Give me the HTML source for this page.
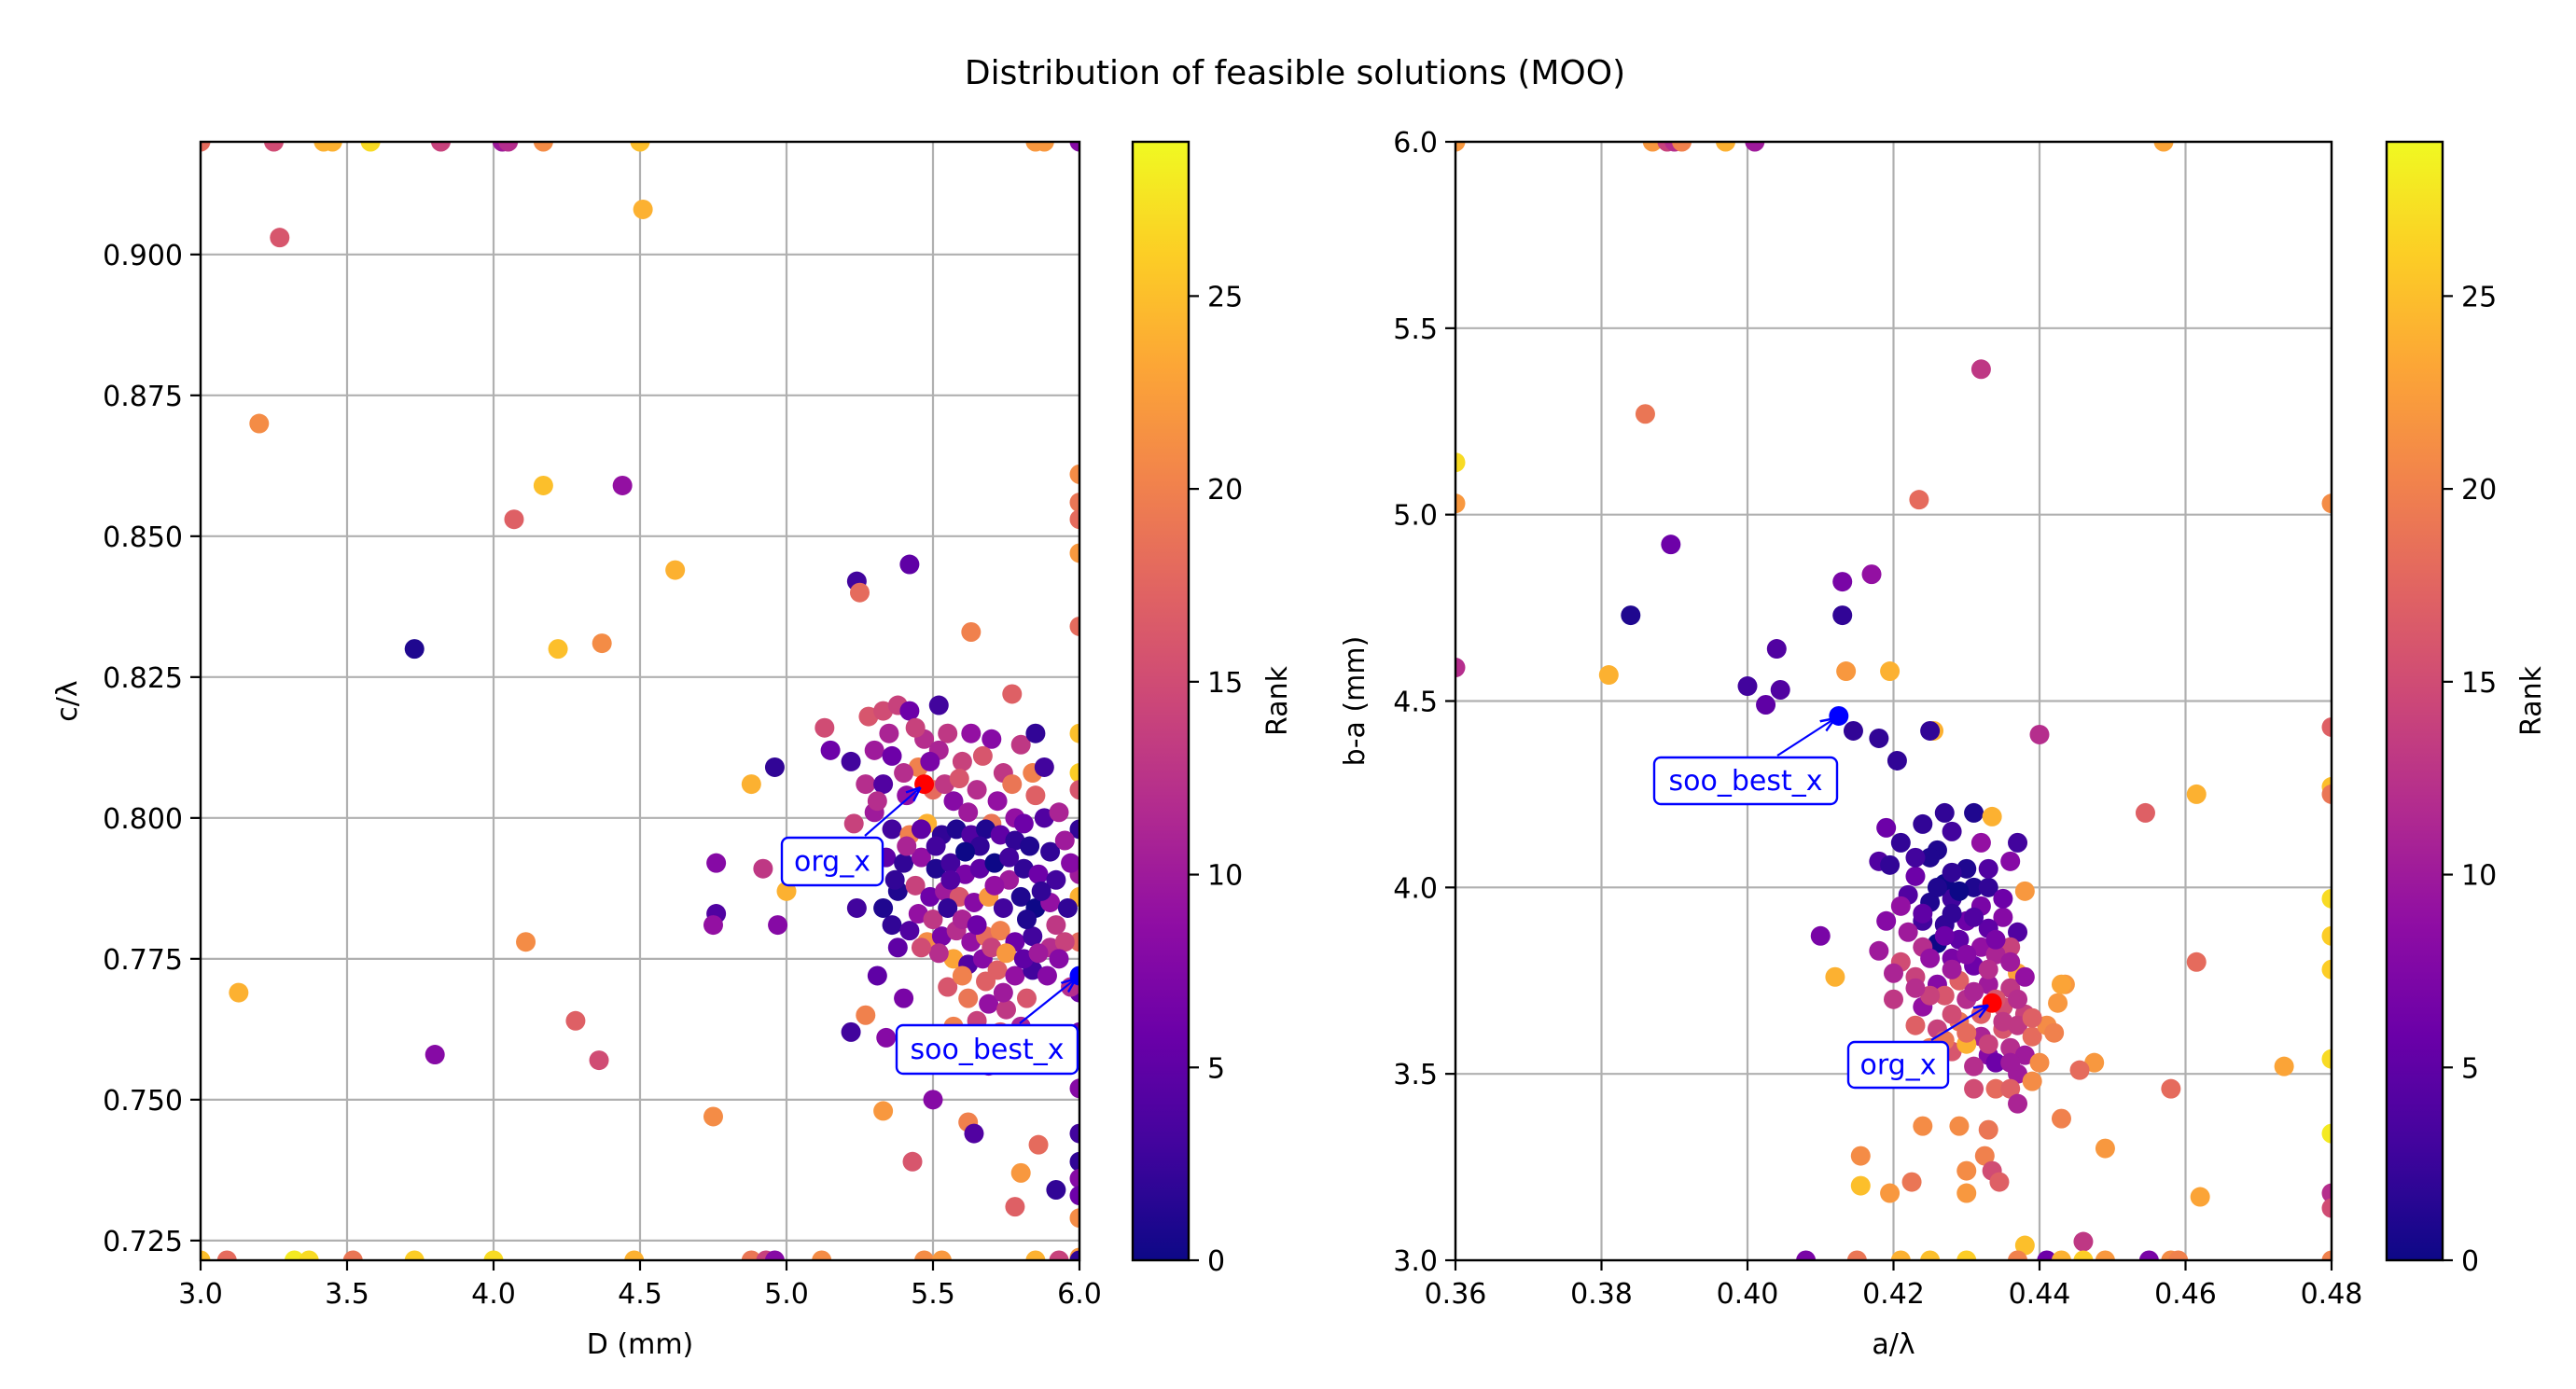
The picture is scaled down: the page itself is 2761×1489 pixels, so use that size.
<!DOCTYPE html>
<html><head><meta charset="utf-8"><style>
html,body{margin:0;padding:0;background:#fff;}
svg{display:block;font-family:"DejaVu Sans","Liberation Sans",sans-serif;}
</style></head><body>
<svg id="fig" width="2761" height="1489" viewBox="0 0 2761 1489" xmlns="http://www.w3.org/2000/svg">
<defs>
<linearGradient id="plasma" x1="0" y1="1" x2="0" y2="0">
<stop offset="0" stop-color="#0d0887"/><stop offset="0.1" stop-color="#41049d"/><stop offset="0.2" stop-color="#6a00a8"/><stop offset="0.3" stop-color="#8f0da4"/><stop offset="0.4" stop-color="#b12a90"/><stop offset="0.5" stop-color="#cc4778"/><stop offset="0.6" stop-color="#e16462"/><stop offset="0.7" stop-color="#f2844b"/><stop offset="0.8" stop-color="#fca636"/><stop offset="0.9" stop-color="#fcce25"/><stop offset="1" stop-color="#f0f921"/>
</linearGradient>
<clipPath id="clipL"><rect x="215" y="152" width="942" height="1199"/></clipPath>
<clipPath id="clipR"><rect x="1560" y="152" width="939" height="1199"/></clipPath>
<marker id="arr" viewBox="0 0 10 10" refX="9" refY="5" markerWidth="7" markerHeight="7" orient="auto"><path d="M0,1 L10,5 L0,9" fill="none" stroke="#0000ff" stroke-width="1.6"/></marker>
</defs>
<text x="1388" y="90" font-size="36" text-anchor="middle">Distribution of feasible solutions (MOO)</text>
</svg>
<script>
// ---------- left plot data (D, c/λ, rank) ----------
const leftX = [
3.0,3.25,3.42,3.45,3.58,3.82,4.03,4.05,4.17,4.5,5.85,5.88,6.0,
3.27,4.51,3.2,4.17,4.44,4.07,4.62,3.73,4.22,4.37,5.24,5.25,5.42,5.63,5.77,
6,6,6,6,6,6,6,6,6,6,6,6,6,6,6,6,6,6,6,6,6,
4.11,3.13,4.28,3.8,4.36,4.75,4.76,4.92,4.76,4.75,4.97,5.0,4.96,4.88,5.13,5.15,5.22,5.24,5.31,5.4,5.22,5.34,5.27,5.33,5.5,5.62,5.64,5.43,5.86,5.8,5.92,5.78,
3.0,3.09,3.32,3.37,3.52,3.73,4.0,4.48,4.88,4.93,4.96,5.12,5.47,5.53,5.85,5.93,6.0,
5.28,5.33,5.38,5.42,5.52,5.47,5.55,5.63,5.70,5.80,5.85,5.30,5.36,5.45,5.52,5.60,5.67,5.74,5.84,5.88,
5.27,5.33,5.40,5.50,5.57,5.62,5.70,5.78,5.85,5.23,5.30,5.36,5.42,5.48,5.53,5.58,5.63,5.68,5.73,5.78,
5.83,5.90,5.95,5.34,5.40,5.46,5.51,5.56,5.61,5.66,5.71,5.76,5.81,5.86,5.92,5.38,5.44,5.49,5.54,5.59,
5.64,5.69,5.74,5.80,5.85,5.90,5.96,5.36,5.42,5.48,5.53,5.58,5.63,5.68,5.73,5.78,5.84,5.90,5.95,5.38,
5.57,5.62,5.67,5.72,5.78,5.84,5.89,5.55,5.62,5.69,5.75,5.82,5.57,5.65,5.73,5.80,5.60,5.87,5.69,
5.31,5.35,5.41,5.44,5.49,5.54,5.59,5.65,5.72,5.77,5.81,5.88,5.93,5.97,5.92,5.87,5.82,5.76,5.71,5.66,
5.61,5.56,5.51,5.46,5.41,5.37,5.33,5.45,5.50,5.55,5.60,5.65,5.70,5.75,5.81,5.86,5.93,5.97,5.74,5.68,
5.60,5.52,5.46
];
const leftY = [
0.92,0.92,0.92,0.92,0.92,0.92,0.92,0.92,0.92,0.92,0.92,0.92,0.92,
0.903,0.908,0.870,0.859,0.859,0.853,0.844,0.830,0.830,0.831,0.842,0.840,0.845,0.833,0.822,
0.861,0.856,0.853,0.847,0.834,0.815,0.808,0.805,0.798,0.790,0.786,0.778,0.769,0.762,0.752,0.744,0.739,0.736,0.733,0.729,0.722,
0.778,0.769,0.764,0.758,0.757,0.747,0.792,0.791,0.783,0.781,0.781,0.787,0.809,0.806,0.816,0.812,0.810,0.784,0.772,0.768,0.762,0.761,0.765,0.748,0.750,0.746,0.744,0.739,0.742,0.737,0.734,0.731,
0.7215,0.7215,0.7215,0.7215,0.7215,0.7215,0.7215,0.7215,0.7215,0.7215,0.7215,0.7215,0.7215,0.7215,0.7215,0.7215,0.7215,
0.818,0.819,0.820,0.819,0.820,0.814,0.815,0.815,0.814,0.813,0.815,0.812,0.811,0.809,0.812,0.810,0.811,0.808,0.808,0.809,
0.806,0.806,0.808,0.805,0.803,0.801,0.799,0.800,0.804,0.799,0.801,0.798,0.797,0.799,0.797,0.798,0.797,0.798,0.797,0.796,
0.795,0.794,0.796,0.793,0.792,0.793,0.791,0.792,0.790,0.791,0.792,0.789,0.791,0.790,0.789,0.787,0.788,0.786,0.787,0.786,
0.785,0.786,0.784,0.786,0.784,0.785,0.784,0.781,0.780,0.778,0.779,0.780,0.778,0.779,0.780,0.778,0.779,0.777,0.778,0.777,
0.775,0.774,0.775,0.773,0.772,0.773,0.772,0.770,0.768,0.767,0.766,0.768,0.763,0.764,0.762,0.763,0.758,0.758,0.756,
0.803,0.815,0.804,0.816,0.810,0.806,0.807,0.805,0.803,0.806,0.799,0.800,0.801,0.792,0.781,0.787,0.782,0.793,0.788,0.795,
0.794,0.789,0.795,0.798,0.795,0.789,0.784,0.783,0.782,0.784,0.782,0.781,0.777,0.776,0.775,0.776,0.775,0.770,0.769,0.771,
0.772,0.776,0.777
];
const leftRank = [
18,15,24,24,27,14,10,12,21,25,22,22,8,
16,24,21,25,9,17,24,1,25,21,3,18,5,20,17,
21,19,18,22,18,25,26,16,2,10,24,18,6,6,8,3,2,8,6,21,22,
21,24,17,8,15,21,8,13,4,9,8,24,2,24,15,6,3,3,5,7,3,8,20,22,8,20,4,16,18,22,2,17,
25,18,28,27,19,26,27,24,19,14,8,21,21,22,24,14,2,
16,15,14,6,3,12,13,9,8,13,2,10,6,20,11,14,16,13,20,3,
12,4,12,18,8,10,19,9,17,14,10,3,20,24,2,1,4,1,5,2,
1,2,10,5,2,9,1,3,7,5,0,10,2,6,3,1,14,6,10,16,
8,22,3,1,0,9,2,2,4,21,7,12,9,18,20,6,3,12,14,5,
23,4,8,17,9,3,8,16,19,9,13,16,20,14,17,11,14,12,8,
12,11,9,14,7,13,16,12,9,19,6,4,11,8,13,2,1,3,9,2,
0,4,3,5,11,2,1,9,13,2,11,6,14,22,5,10,8,12,10,17,
20,12,15
];
const leftSpecial = {orgX:5.47, orgY:0.806, sooX:6.0, sooY:0.772};

// ---------- right plot data (a/λ, b-a, rank) ----------
const rightX = [
0.36,0.387,0.389,0.39,0.391,0.397,0.401,0.457,
0.432,0.386,0.36,0.36,0.4235,0.48,0.3895,0.417,0.413,0.384,0.413,0.404,0.36,0.381,0.4135,0.4195,0.40,0.4045,0.4025,0.4145,0.418,0.4255,0.425,0.440,0.48,0.4205,0.48,0.48,0.4615,0.4545,0.48,0.48,0.48,0.4615,0.410,0.412,0.4435,0.4475,0.4735,0.4455,0.458,0.48,0.48,0.443,0.449,0.462,0.48,0.48,0.424,0.433,0.429,0.4155,0.4155,0.4195,0.4225,0.430,0.430,0.4325,0.4335,0.4345,0.446,0.438,
0.408,0.415,0.421,0.425,0.43,0.437,0.441,0.443,0.446,0.449,0.455,0.458,0.459,0.48,
0.427,0.431,0.4335,0.419,0.424,0.428,0.432,0.437,0.418,0.421,0.426,0.430,0.436,0.4195,0.423,0.427,0.431,0.433,0.438,0.422,
0.425,0.428,0.432,0.435,0.421,0.424,0.427,0.430,0.433,0.437,0.419,0.422,0.426,0.429,0.432,0.436,0.418,0.421,0.424,0.428,
0.431,0.434,0.437,0.420,0.423,0.426,0.429,0.433,0.436,0.438,0.420,0.424,0.427,0.430,0.435,0.438,0.423,0.426,0.429,0.432,
0.435,0.437,0.439,0.421,0.425,0.428,0.430,0.433,0.436,0.438,0.431,0.434,0.437,0.431,0.434,0.436,0.437,0.439,0.441,0.442,
0.4425,0.443,0.440,
0.425,0.428,0.423,0.433,0.426,0.429,0.435,0.424,0.428,0.431,0.434,0.427,0.425,0.430,0.433,0.436,0.428,0.425,0.431,0.434,
0.437,0.428,0.432,0.435,0.430,0.433,0.427,0.436,0.439,0.423
];
const rightY = [
6,6,6,6,6,6,6,6,
5.39,5.27,5.14,5.03,5.04,5.03,4.92,4.84,4.82,4.73,4.73,4.64,4.59,4.57,4.58,4.58,4.54,4.53,4.49,4.42,4.40,4.42,4.42,4.41,4.43,4.34,4.27,4.25,4.25,4.20,3.97,3.87,3.78,3.80,3.87,3.76,3.74,3.53,3.52,3.51,3.46,3.54,3.34,3.38,3.30,3.17,3.18,3.14,3.36,3.35,3.36,3.28,3.20,3.18,3.21,3.24,3.18,3.28,3.24,3.21,3.05,3.04,
3,3,3,3,3,3,3,3,3,3,3,3,3,3,
4.20,4.20,4.19,4.16,4.17,4.15,4.12,4.12,4.07,4.12,4.10,4.05,4.07,4.06,4.03,4.01,4.00,4.00,3.99,3.98,
3.96,3.97,3.95,3.92,3.95,3.91,3.90,3.91,3.89,3.88,3.91,3.88,3.85,3.86,3.84,3.84,3.83,3.80,3.84,3.81,
3.79,3.82,3.77,3.77,3.76,3.74,3.75,3.74,3.73,3.76,3.70,3.68,3.71,3.70,3.68,3.66,3.63,3.62,3.64,3.60,
3.62,3.63,3.60,3.56,3.57,3.56,3.58,3.55,3.57,3.55,3.52,3.53,3.50,3.46,3.46,3.46,3.42,3.48,3.63,3.61,
3.69,3.74,3.53,
4.08,4.04,4.08,4.05,4.00,3.99,3.97,3.93,3.93,3.92,3.86,3.87,3.81,3.82,3.78,3.80,3.78,3.71,3.72,3.70,
3.70,3.66,3.66,3.64,3.61,3.58,3.59,3.53,3.65,3.73
];
const rightRank = [
22,22,14,12,20,24,10,23,
13,19,27,22,18,21,6,9,7,1,2,4,12,24,22,24,3,4,5,2,2,24,2,12,17,2,25,19,24,17,27,26,26,18,7,24,22,22,23,18,18,27,28,20,22,23,12,15,21,19,21,21,25,22,19,21,22,20,15,17,13,25,
7,19,24,25,26,20,6,24,26,22,7,21,20,20,
2,1,24,6,2,3,9,3,4,2,1,1,8,2,6,0,1,2,22,4,
1,3,7,8,9,3,2,6,5,4,8,10,0,5,9,14,10,15,12,7,
6,11,23,11,14,8,17,10,13,9,13,9,16,12,15,14,17,14,19,11,
16,13,18,15,20,16,24,8,12,10,12,6,10,15,18,17,11,21,21,20,
22,23,21,
1,2,3,4,1,0,6,5,2,4,7,6,9,8,12,10,10,14,11,16,
12,15,17,13,18,14,19,10,17,12
];
const rightSpecial = {orgX:0.4335, orgY:3.69, sooX:0.4125, sooY:4.46};

const leftXTicks = [3.0,3.5,4.0,4.5,5.0,5.5,6.0];
const leftYTicks = [0.725,0.750,0.775,0.800,0.825,0.850,0.875,0.900];
const rightXTicks = [0.36,0.38,0.40,0.42,0.44,0.46,0.48];
const rightYTicks = [3.0,3.5,4.0,4.5,5.0,5.5,6.0];
const cbarTicks = [0,5,10,15,20,25];
const rankMax = 29;

const NS = "http://www.w3.org/2000/svg";
const svg = document.getElementById('fig');
function mk(tag, attrs, parent){
  const e = document.createElementNS(NS, tag);
  for (const k in attrs) e.setAttribute(k, attrs[k]);
  (parent||svg).appendChild(e);
  return e;
}
const stops = ["#0d0887","#41049d","#6a00a8","#8f0da4","#b12a90","#cc4778","#e16462","#f2844b","#fca636","#fcce25","#f0f921"];
function hex(c){return [parseInt(c.slice(1,3),16),parseInt(c.slice(3,5),16),parseInt(c.slice(5,7),16)];}
function plasma(t){
  t=Math.max(0,Math.min(1,t)); const f=t*10; const i=Math.min(9,Math.floor(f)); const u=f-i;
  const a=hex(stops[i]), b=hex(stops[i+1]);
  return 'rgb('+a.map((v,k)=>Math.round(v+(b[k]-v)*u)).join(',')+')';
}

function panel(cfg){
  const {x0,x1,y0,y1,xmin,xmax,ymin,ymax,xs,ys,rs,xt,yt,xdec,ydec,clip,xlabel,ylabel,ylabX,sp,pfx,cbx} = cfg;
  const sx = v => x0 + (v-xmin)/(xmax-xmin)*(x1-x0);
  const sy = v => y1 - (v-ymin)/(ymax-ymin)*(y1-y0);
  const g = mk('g',{});
  
  
  xt.forEach(v=>{ const l=mk('line',{x1:sx(v),x2:sx(v),y1:y0,y2:y1,stroke:'#b0b0b0','stroke-width':2.2},g);
      });
  yt.forEach(v=>{ const l=mk('line',{x1:x0,x2:x1,y1:sy(v),y2:sy(v),stroke:'#b0b0b0','stroke-width':2.2},g);
      });
  const pg = mk('g',{'clip-path':'url(#'+clip+')'},g);
  
  
  for (let i=0;i<xs.length;i++){
    const c = mk('circle',{cx:sx(xs[i]),cy:sy(ys[i]),r:10.5,fill:plasma(rs[i]/rankMax)},pg);
    
    
  }
  const org = mk('circle',{cx:sx(sp.orgX),cy:sy(sp.orgY),r:10.5,fill:'#ff0000'},pg);
  
  
  const soo = mk('circle',{cx:sx(sp.sooX),cy:sy(sp.sooY),r:10.5,fill:'#0000ff'},pg);
  
  
  const fr = mk('rect',{x:x0,y:y0,width:x1-x0,height:y1-y0,fill:'none',stroke:'#000','stroke-width':2.4},g);
   
  xt.forEach(v=>{ const X=sx(v);
    mk('line',{x1:X,x2:X,y1:y1,y2:y1+11,stroke:'#000','stroke-width':2.2},g);
    const t=mk('text',{x:X,y:y1+46,'font-size':30,'text-anchor':'middle',fill:'#000'},g);
    t.textContent=v.toFixed(xdec);
      });
  yt.forEach(v=>{ const Y=sy(v);
    mk('line',{x1:x0-11,x2:x0,y1:Y,y2:Y,stroke:'#000','stroke-width':2.2},g);
    const t=mk('text',{x:x0-19,y:Y+11,'font-size':30,'text-anchor':'end',fill:'#000'},g);
    t.textContent=v.toFixed(ydec);
      });
  const xl=mk('text',{x:(x0+x1)/2,y:1451,'font-size':30,'text-anchor':'middle'},g);
  xl.textContent=xlabel;  
  const yl=mk('text',{x:ylabX,y:(y0+y1)/2,'font-size':30,'text-anchor':'middle',transform:'rotate(-90 '+ylabX+' '+((y0+y1)/2)+')'},g);
  yl.textContent=ylabel;  
  cfg.ann.forEach(a=>{
    const ag = mk('g',{},g);
    
    
    const px = sx(a.key==='org'?sp.orgX:sp.sooX), py = sy(a.key==='org'?sp.orgY:sp.sooY);
    mk('line',{x1:a.ax,y1:a.ay,x2:px-(px-a.ax)*0.08,y2:py-(py-a.ay)*0.08,stroke:'#0000ff','stroke-width':2.2,'marker-end':'url(#arr)'},ag);
    mk('rect',{x:a.bx,y:a.by,width:a.bw,height:a.bh,rx:7,fill:'#fff',stroke:'#0000ff','stroke-width':2.4},ag);
    const t=mk('text',{x:a.bx+a.bw/2,y:a.by+a.bh/2+10,'font-size':30,'text-anchor':'middle',fill:'#0000ff'},ag);
    t.textContent=a.text;
  });
  const cg = mk('g',{});
  
  
  mk('rect',{x:cbx,y:y0,width:60,height:y1-y0,fill:'url(#plasma)',stroke:'#000','stroke-width':2.4},cg);
  cbarTicks.forEach(v=>{ const Y = y1 - v/rankMax*(y1-y0);
    mk('line',{x1:cbx+60,x2:cbx+71,y1:Y,y2:Y,stroke:'#000','stroke-width':2.2},cg);
    const t=mk('text',{x:cbx+80,y:Y+11,'font-size':30,fill:'#000'},cg);
    t.textContent=String(v);
      });
  const rx = cbx+165;
  const rl = mk('text',{x:rx,y:(y0+y1)/2,'font-size':30,'text-anchor':'middle',transform:'rotate(-90 '+rx+' '+((y0+y1)/2)+')'},cg);
  rl.textContent='Rank';  
}

panel({x0:215,x1:1157,y0:152,y1:1351,xmin:3,xmax:6,ymin:0.7215,ymax:0.92,xs:leftX,ys:leftY,rs:leftRank,
  xt:leftXTicks,yt:leftYTicks,xdec:1,ydec:3,clip:'clipL',xlabel:'D (mm)',ylabel:'c/λ',ylabX:82,sp:leftSpecial,pfx:'left',cbx:1214,
  ann:[{key:'org',text:'org_x',bx:838,by:898,bw:108,bh:51,ax:927,ay:896},
       {key:'soo',text:'soo_best_x',bx:961,by:1099,bw:194,bh:52,ax:1093,ay:1097}]});
panel({x0:1560,x1:2499,y0:152,y1:1351,xmin:0.36,xmax:0.48,ymin:3,ymax:6,xs:rightX,ys:rightY,rs:rightRank,
  xt:rightXTicks,yt:rightYTicks,xdec:2,ydec:1,clip:'clipR',xlabel:'a/λ',ylabel:'b-a (mm)',ylabX:1462,sp:rightSpecial,pfx:'right',cbx:2558,
  ann:[{key:'soo',text:'soo_best_x',bx:1773,by:812,bw:196,bh:50,ax:1905,ay:810},
       {key:'org',text:'org_x',bx:1981,by:1117,bw:107,bh:49,ax:2070,ay:1115}]});
</script>
</body></html>
